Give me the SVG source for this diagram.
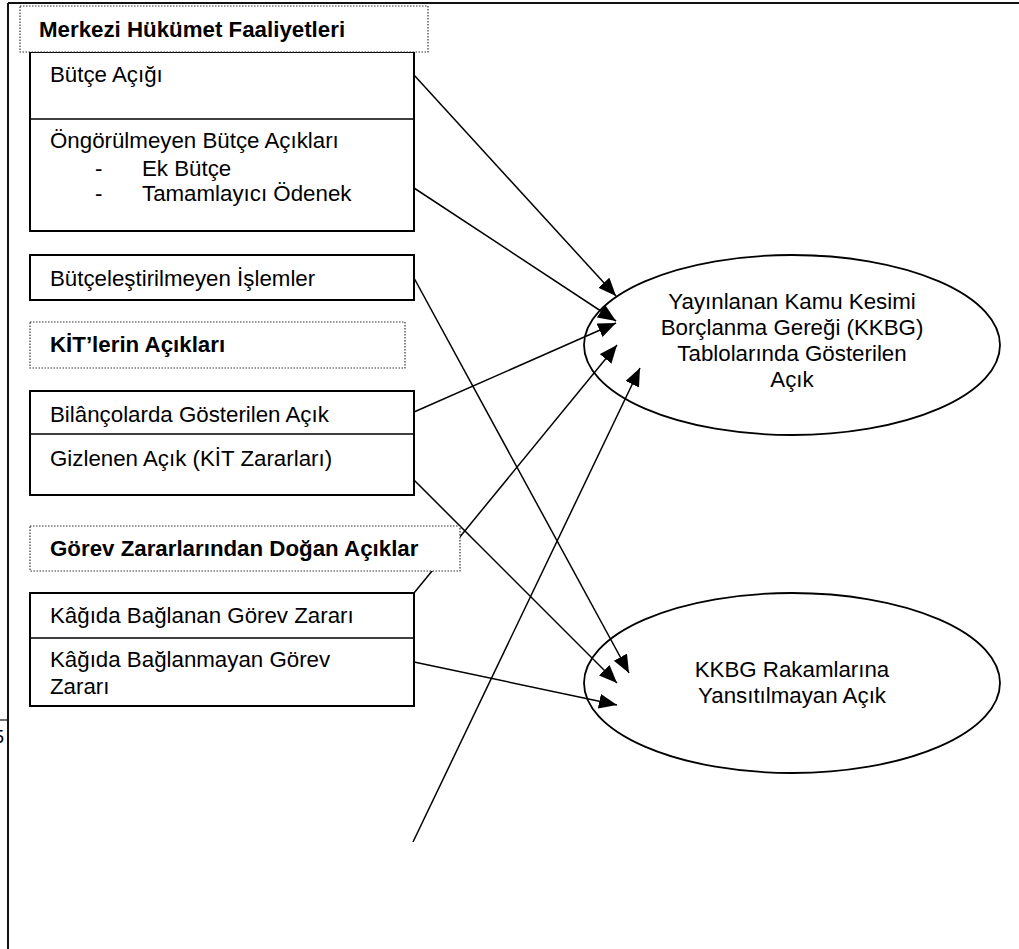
<svg xmlns="http://www.w3.org/2000/svg" width="1019" height="949" viewBox="0 0 1019 949">
  <style>
    .t { font-family: "Liberation Sans", Arial, sans-serif; font-size: 22.3px; fill: #000; }
    .b { font-weight: bold; }
    .c { text-anchor: middle; }
    .box { fill: #fff; stroke: #000; stroke-width: 2; }
    .sep { stroke: #000; stroke-width: 1.6; }
    .dot { fill: #fff; stroke: #333; stroke-width: 1.2; stroke-dasharray: 1.5 1.5; }
    .oval { fill: #fff; stroke: #000; stroke-width: 1.8; }
    .link { stroke: #000; stroke-width: 1.5; fill: none; marker-end: url(#head); }
    .frame { stroke: #111; stroke-width: 2; fill: none; }
  </style>
  <defs>
    <marker id="head" markerUnits="userSpaceOnUse" markerWidth="20" markerHeight="16" refX="18" refY="7.5" orient="auto">
      <path d="M0,0 L18,7.5 L0,15 z" fill="#000"/>
    </marker>
  </defs>

  <rect width="1019" height="949" fill="#fff"/>

  <!-- page frame and margin mark -->
  <g id="page">
    <line class="frame" x1="8" y1="3" x2="1019" y2="3"/>
    <line class="frame" x1="8" y1="3" x2="8" y2="949"/>
    <line x1="0" y1="720" x2="8" y2="720" stroke="#111" stroke-width="1.2"/>
    <text x="4" y="743" class="t" style="font-size:18px" text-anchor="end">5</text>
  </g>

  <!-- target ellipses -->
  <g id="kkbg-table">
    <ellipse class="oval" cx="792" cy="345" rx="208" ry="90"/>
    <text class="t c" x="792" y="309">Yayınlanan Kamu Kesimi</text>
    <text class="t c" x="792" y="335">Borçlanma Gereği (KKBG)</text>
    <text class="t c" x="792" y="361">Tablolarında Gösterilen</text>
    <text class="t c" x="792" y="387">Açık</text>
  </g>
  <g id="kkbg-hidden">
    <ellipse class="oval" cx="792" cy="683" rx="208" ry="90"/>
    <text class="t c" x="792" y="677">KKBG Rakamlarına</text>
    <text class="t c" x="792" y="703">Yansıtılmayan Açık</text>
  </g>

  <!-- source boxes -->
  <g id="central-gov">
    <rect class="box" x="30" y="52" width="384" height="179"/>
    <line class="sep" x1="30" y1="119" x2="414" y2="119"/>
    <text class="t" x="50" y="82">Bütçe Açığı</text>
    <text class="t" x="50" y="148">Öngörülmeyen Bütçe Açıkları</text>
    <text class="t" x="95" y="176">-</text>
    <text class="t" x="142" y="176">Ek Bütçe</text>
    <text class="t" x="95" y="201">-</text>
    <text class="t" x="142" y="201">Tamamlayıcı Ödenek</text>
  </g>
  <g id="off-budget">
    <rect class="box" x="30" y="255" width="384" height="45"/>
    <text class="t" x="50" y="286">Bütçeleştirilmeyen İşlemler</text>
  </g>
  <g id="kit-deficits">
    <rect class="box" x="30" y="391" width="384" height="104"/>
    <line class="sep" x1="30" y1="434" x2="414" y2="434"/>
    <text class="t" x="50" y="422">Bilânçolarda Gösterilen Açık</text>
    <text class="t" x="50" y="466">Gizlenen Açık (KİT Zararları)</text>
  </g>
  <g id="duty-losses">
    <rect class="box" x="30" y="593" width="384" height="113"/>
    <line class="sep" x1="30" y1="638" x2="414" y2="638"/>
    <text class="t" x="50" y="623">Kâğıda Bağlanan Görev Zararı</text>
    <text class="t" x="50" y="667">Kâğıda Bağlanmayan Görev</text>
    <text class="t" x="50" y="694">Zararı</text>
  </g>

  <!-- connectors -->
  <g id="connectors">
    <line class="link" x1="414" y1="75" x2="616" y2="296"/>
    <line class="link" x1="414" y1="188" x2="616" y2="321"/>
    <line class="link" x1="414" y1="278" x2="629" y2="673"/>
    <line class="link" x1="414" y1="412" x2="616" y2="323"/>
    <line class="link" x1="414" y1="480" x2="617" y2="683"/>
    <line class="link" x1="414" y1="593" x2="617" y2="345"/>
    <line class="link" x1="414" y1="662" x2="617" y2="705"/>
    <line class="link" x1="413" y1="842" x2="640" y2="368"/>
  </g>

  <!-- dotted section headings -->
  <g id="heading-central">
    <rect class="dot" x="20" y="6" width="408" height="46"/>
    <text class="t b" x="39" y="37">Merkezi Hükümet Faaliyetleri</text>
  </g>
  <g id="heading-kit">
    <rect class="dot" x="30" y="322" width="375" height="46"/>
    <text class="t b" x="50" y="352">KİT’lerin Açıkları</text>
  </g>
  <g id="heading-duty">
    <rect class="dot" x="30" y="526" width="430" height="45"/>
    <text class="t b" x="50" y="556">Görev Zararlarından Doğan Açıklar</text>
  </g>
</svg>
